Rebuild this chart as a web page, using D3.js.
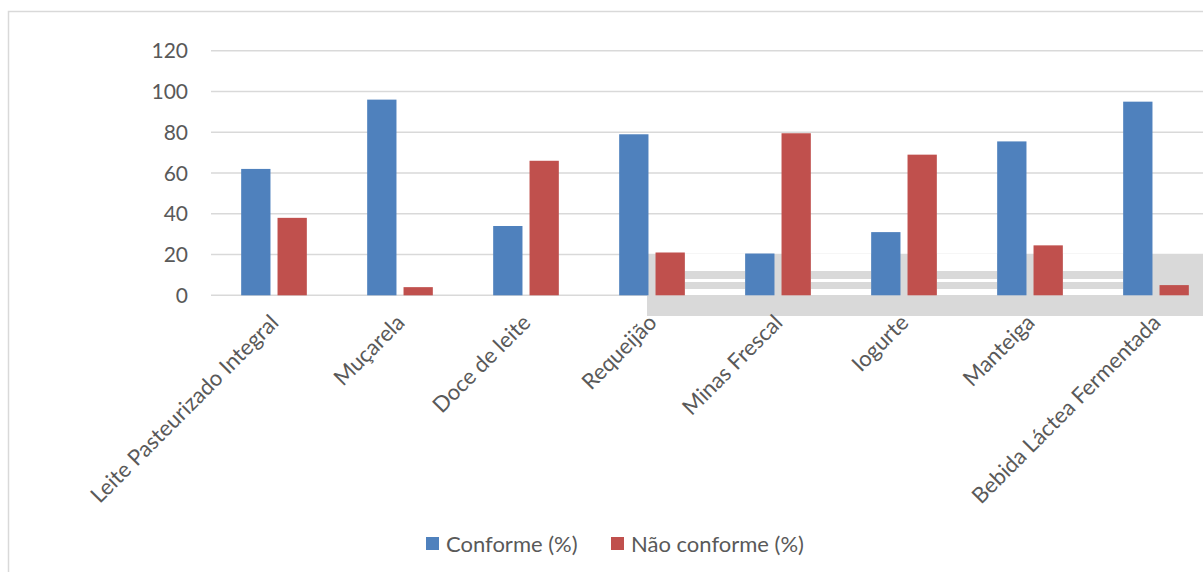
<!DOCTYPE html>
<html>
<head>
<meta charset="utf-8">
<script src="https://cdn.jsdelivr.net/npm/d3@7"></script>
<style>
  html, body { margin: 0; padding: 0; background: #fff; }
  svg { display: block; }
  text { font-family: Lato, "Open Sans", sans-serif; fill: #595959; }
</style>
</head>
<body>
<svg id="chart" width="1203" height="572"></svg>
<script>
const categories = ["Leite Pasteurizado Integral", "Muçarela", "Doce de leite", "Requeijão",
                    "Minas Frescal", "Iogurte", "Manteiga", "Bebida Láctea Fermentada"];
const conforme = [62, 96, 34, 79, 20.5, 31, 75.5, 95];
const naoConforme = [38, 4, 66, 21, 79.5, 69, 24.5, 5];
const seriesNames = ["Conforme (%)", "Não conforme (%)"];
const seriesColors = ["#4F81BD", "#C0504D"];
const yTicks = [0, 20, 40, 60, 80, 100, 120];

const svg = d3.select("#chart");
const W = 1203, H = 572;

// chart border
svg.append("rect").attr("x", 8.5).attr("y", 11.5).attr("width", 1300).attr("height", 700)
  .attr("fill", "#fff").attr("stroke", "#d9d9d9").attr("stroke-width", 1.5);

const x0 = d3.scaleBand().domain(categories).range([211, 1219]).paddingInner(0).paddingOuter(0);
const x1 = d3.scaleBand().domain(seriesNames).range([0, x0.bandwidth()])
  .paddingInner(0.194).paddingOuter(0.83).align(0.5);
const y = d3.scaleLinear().domain([0, 120]).range([295.3, 50.7]);

// gridlines
svg.append("g").selectAll("line").data(yTicks).join("line")
  .attr("x1", 211).attr("x2", W)
  .attr("y1", d => y(d)).attr("y2", d => y(d))
  .attr("stroke", "#d9d9d9").attr("stroke-width", 1.5);

// y tick labels
svg.append("g").selectAll("text").data(yTicks).join("text")
  .attr("x", 188).attr("y", d => y(d)).attr("dy", "0.36em")
  .attr("text-anchor", "end").attr("font-size", 21).text(d => d);

// grey artifact region (screenshot overlay)
const art = svg.append("g");
art.append("rect").attr("x", 647).attr("y", 254).attr("width", W - 647).attr("height", 62).attr("fill", "#d9d9d9");
const whiteRows = [[254, 271], [279, 282], [289, 295]];
for (let i = 3; i < 7; i++) {
  const gx0 = x0(categories[i]) + x1(seriesNames[1]) + x1.bandwidth();
  const gx1 = x0(categories[i + 1]) + x1(seriesNames[0]);
  whiteRows.forEach(r => {
    art.append("rect").attr("x", gx0).attr("y", r[0]).attr("width", gx1 - gx0).attr("height", r[1] - r[0]).attr("fill", "#fff");
  });
}

// bars
const data = categories.map((c, i) => ({ cat: c, vals: [conforme[i], naoConforme[i]] }));
const groups = svg.append("g").selectAll("g").data(data).join("g")
  .attr("transform", d => `translate(${x0(d.cat)},0)`);
groups.selectAll("rect").data(d => d.vals.map((v, j) => ({ v, s: seriesNames[j], j }))).join("rect")
  .attr("x", d => x1(d.s)).attr("width", x1.bandwidth())
  .attr("y", d => y(d.v)).attr("height", d => y(0) - y(d.v))
  .attr("fill", d => seriesColors[d.j]);

// category labels
svg.append("g").selectAll("text").data(categories).join("text")
  .attr("transform", d => `translate(${x0(d) + x0.bandwidth() / 2 + 6},324) rotate(-45)`)
  .attr("text-anchor", "end").attr("font-size", 22).text(d => d);

// legend
const legend = svg.append("g");
const legendItems = [{ x: 426, tx: 446 }, { x: 611, tx: 631 }];
legend.selectAll("rect").data(seriesNames).join("rect")
  .attr("x", (d, i) => legendItems[i].x).attr("y", 537).attr("width", 13).attr("height", 13)
  .attr("fill", (d, i) => seriesColors[i]);
legend.selectAll("text").data(seriesNames).join("text")
  .attr("x", (d, i) => legendItems[i].tx).attr("y", 552)
  .attr("font-size", 22).text(d => d);
</script>
</body>
</html>
